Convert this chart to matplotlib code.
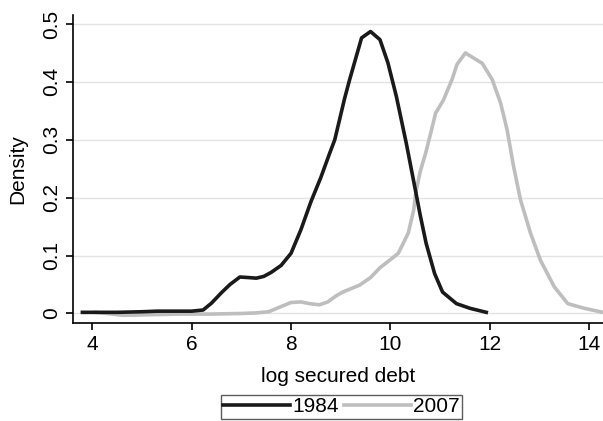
import matplotlib.pyplot as plt

plt.rcParams['font.family'] = ['Liberation Sans', 'DejaVu Sans']
plt.rcParams['font.size'] = 15

# kernel density, log secured debt, 1984
x_1984 = [3.8, 4.1, 4.5, 5.0, 5.3, 5.7, 6.0, 6.23, 6.4, 6.6, 6.77, 6.97, 7.15, 7.3, 7.45,
          7.6, 7.8, 8.0, 8.2, 8.4, 8.6, 8.77, 8.88, 9.08, 9.18, 9.3, 9.42, 9.6, 9.79,
          9.95, 10.12, 10.32, 10.49, 10.6, 10.72, 10.89, 11.05, 11.33, 11.6, 11.93]
y_1984 = [0.002, 0.002, 0.002, 0.003, 0.004, 0.004, 0.004, 0.006, 0.018, 0.036, 0.050,
          0.063, 0.062, 0.061, 0.064, 0.071, 0.083, 0.104, 0.145, 0.193, 0.235, 0.275,
          0.300, 0.372, 0.404, 0.440, 0.476, 0.487, 0.473, 0.433, 0.375, 0.294, 0.219,
          0.170, 0.121, 0.069, 0.037, 0.017, 0.009, 0.002]

# 2007
x_2007 = [4.05, 4.3, 4.6, 4.8, 5.2, 5.8, 6.4, 7.0, 7.3, 7.55, 7.8, 8.0, 8.2, 8.37, 8.57,
          8.74, 8.9, 9.04, 9.38, 9.6, 9.79, 10.0, 10.16, 10.36, 10.47, 10.51, 10.6, 10.71,
          10.81, 10.91, 11.07, 11.24, 11.34, 11.51, 11.68, 11.85, 12.05, 12.22, 12.35,
          12.48, 12.62, 12.82, 13.02, 13.3, 13.57, 13.9, 14.28]
y_2007 = [0.002, 0.0, -0.003, -0.003, -0.002, -0.001, -0.001, 0.0, 0.001, 0.003, 0.012,
          0.019, 0.020, 0.017, 0.015, 0.020, 0.030, 0.037, 0.049, 0.062, 0.079, 0.093,
          0.104, 0.139, 0.179, 0.208, 0.245, 0.277, 0.311, 0.346, 0.369, 0.404, 0.430,
          0.450, 0.441, 0.432, 0.404, 0.363, 0.317, 0.254, 0.196, 0.139, 0.092, 0.046,
          0.017, 0.009, 0.002]

xticks = [4, 6, 8, 10, 12, 14]
yticks = [0, 0.1, 0.2, 0.3, 0.4, 0.5]
ytick_labels = ['0', '0.1', '0.2', '0.3', '0.4', '0.5']

fig = plt.figure(figsize=(6.03, 4.21), dpi=100)
ax = fig.add_axes([0.121, 0.232, 0.879, 0.733])

ax.plot(x_1984, y_1984, color='#1a1a1a', lw=2.6, label='1984', zorder=3)
ax.plot(x_2007, y_2007, color='#bebebe', lw=2.6, label='2007', zorder=2)

ax.set_xlim(3.61, 14.28)
ax.set_ylim(-0.017, 0.516)
ax.set_xticks(xticks)
ax.set_yticks(yticks)
ax.set_yticklabels(ytick_labels, rotation=90, va='center')
ax.yaxis.grid(True, color='#e3e3e3', lw=1)
ax.set_axisbelow(True)
for s in ['top', 'right']:
    ax.spines[s].set_visible(False)
ax.spines['left'].set_linewidth(1.2)
ax.spines['bottom'].set_linewidth(1.2)
ax.tick_params(length=5, width=1.2, labelsize=15)

ax.set_xlabel('log secured debt', fontsize=15, labelpad=9)
ax.set_ylabel('Density', fontsize=15, labelpad=11)

leg = fig.legend(loc='center', bbox_to_anchor=(0.566, 0.034), ncol=2, frameon=True,
                 fancybox=False, edgecolor='#333333', fontsize=15, handlelength=3.2,
                 handletextpad=0.1, columnspacing=0.25, borderpad=0.12,
                 borderaxespad=0)
leg.get_frame().set_linewidth(1.0)

plt.savefig('out.png', dpi=100)
